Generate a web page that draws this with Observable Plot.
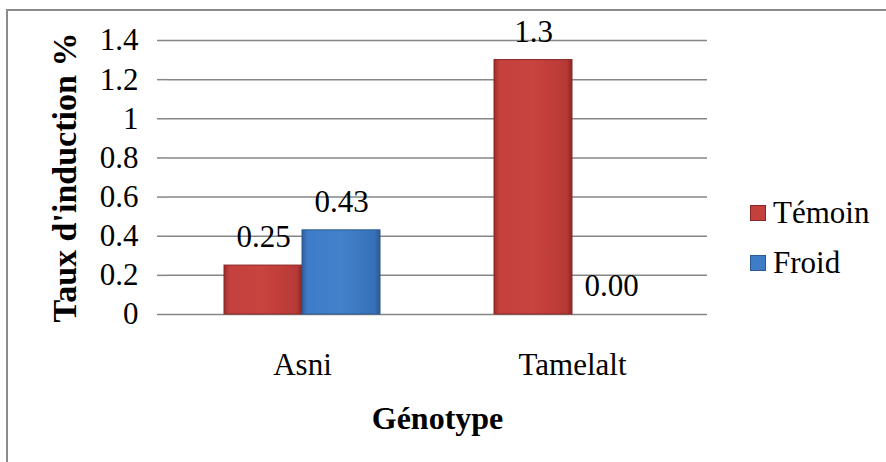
<!DOCTYPE html>
<html>
<head>
<meta charset="utf-8">
<script src="https://cdn.jsdelivr.net/npm/d3@7"></script>
<script src="https://cdn.jsdelivr.net/npm/@observablehq/plot@0.6"></script>
<style>
  body { margin: 0; background: #fff; }
  #wrap { position: relative; width: 886px; height: 462px; overflow: hidden;
          font-family: "Liberation Serif", "Times New Roman", serif; }
  #box { position: absolute; left: 6px; top: 9px; width: 900px; height: 480px;
         border: 2px solid #8c8c8c; }
  #chart { position: absolute; left: 0; top: 0; }
  .item { position: absolute; left: 750px; font-size: 31px; line-height: 31px; color: #000;
          padding-left: 23px; white-space: nowrap; }
  .sw { position: absolute; left: 0; top: 8px; width: 16px; height: 16px; box-sizing: border-box; }
</style>
</head>
<body>
<div id="wrap">
  <div id="box"></div>
  <div id="chart"></div>
  <div id="legend"></div>
</div>
<script>
// Induction rate (%) per genotype, control vs. cold treatment
const genotypes = ["Asni", "Tamelalt"];
const series = ["Témoin", "Froid"];
const asniValues = [0.25, 0.43];
const tamelaltValues = [1.3, 0];
const valueLabels = ["0.25", "0.43", "1.3", "0.00"];
const yTicks = [0, 0.2, 0.4, 0.6, 0.8, 1, 1.2, 1.4];
const seriesFills = ["url(#grad-temoin)", "url(#grad-froid)"];
const seriesEdges = ["#8a2724", "#2b5990"];
const swatchColors = ["#c4403d", "#3f7cc6"];

const rows = [];
[asniValues, tamelaltValues].forEach((vals, gi) =>
  vals.forEach((v, si) =>
    rows.push({genotype: genotypes[gi], series: series[si], value: v, label: valueLabels[gi * 2 + si]})
  )
);

const plot = Plot.plot({
  width: 886,
  height: 462,
  marginLeft: 167,
  marginRight: 179,
  marginTop: 40,
  marginBottom: 148,
  style: {fontFamily: "'Liberation Serif', 'Times New Roman', serif", fontSize: "31px", color: "#000", background: "transparent", overflow: "visible"},
  fx: {domain: genotypes, padding: 0},
  x: {domain: series, paddingInner: 0, paddingOuter: 0.709, axis: null},
  y: {domain: [0, 1.4]},
  color: {domain: series, range: seriesFills},
  marks: [
    Plot.gridY(yTicks, {stroke: "#868686", strokeOpacity: 1, strokeWidth: 1.5}),
    Plot.axisY(yTicks, {anchor: "left", tickSize: 10, tickPadding: 19, stroke: "#868686", strokeWidth: 1.5,
                        tickFormat: d => String(d), label: null, line: true}),
    Plot.axisY({ticks: [], anchor: "left", label: "Taux d'induction %", labelAnchor: "center",
                labelOffset: 116, labelArrow: "none", fontWeight: "bold", fontSize: 34}),
    Plot.axisFx({anchor: "bottom", tickSize: 0, tickPadding: 38, label: null}),
    Plot.axisFx({ticks: [], anchor: "bottom", label: "Génotype", labelAnchor: "center",
                 labelOffset: 114, labelArrow: "none", fontWeight: "bold", fontSize: 32}),
    Plot.barY(rows, {fx: "genotype", x: "series", y: "value", fill: "series",
                     stroke: d => seriesEdges[series.indexOf(d.series)], strokeWidth: 1}),
    Plot.text(rows, {fx: "genotype", x: "series", y: "value", text: "label", dy: -28, fill: "#000"})
  ]
});

// bar shading
const defs = d3.select(plot).append("defs");
[["grad-temoin", ["#9a2c29", "#c4413e", "#c9433f", "#b73a37", "#8c2724"]],
 ["grad-froid", ["#2d5f9c", "#3f7cc7", "#4281cc", "#3771b8", "#2b5a92"]]].forEach(([id, c]) => {
  const g = defs.append("linearGradient").attr("id", id).attr("x1", 0).attr("x2", 1).attr("y1", 0).attr("y2", 0);
  [0, 0.07, 0.5, 0.93, 1].forEach((o, i) => g.append("stop").attr("offset", o).attr("stop-color", c[i]));
});

document.getElementById("chart").appendChild(plot);

// legend
const legend = document.getElementById("legend");
series.forEach((s, i) => {
  const item = document.createElement("div");
  item.className = "item";
  item.style.top = (197 + i * 50) + "px";
  const sw = document.createElement("span");
  sw.className = "sw";
  sw.style.background = swatchColors[i];
  sw.style.border = "1px solid " + seriesEdges[i];
  item.appendChild(sw);
  item.appendChild(document.createTextNode(s));
  legend.appendChild(item);
});
</script>
</body>
</html>
